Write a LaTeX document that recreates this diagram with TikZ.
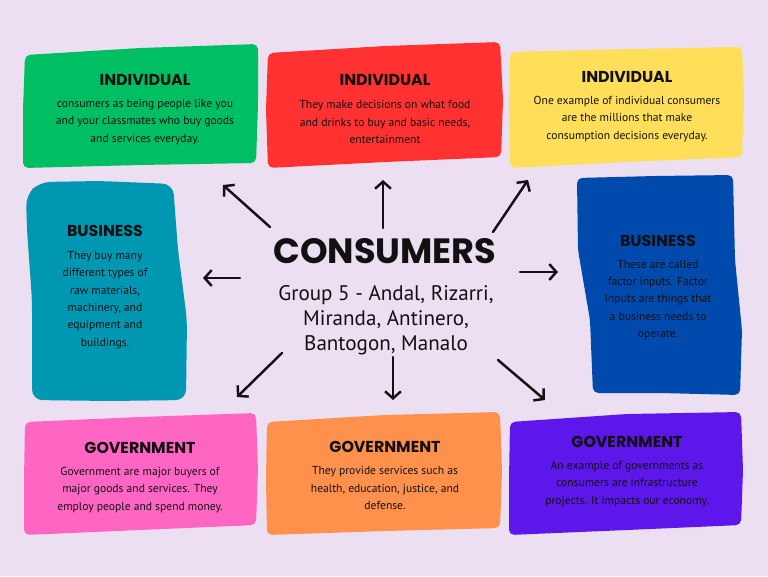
\documentclass[tikz,border=0pt]{standalone}
\usepackage{fontspec}
\setmainfont{PT Sans}
\newfontfamily\headfont{Poppins}
\usepackage{tikz}
\usetikzlibrary{arrows.meta,positioning}
\definecolor{bglilac}{HTML}{EBDFF1}
\definecolor{ink}{HTML}{111111}
\definecolor{cgreen}{HTML}{00BF63}
\definecolor{cred}{HTML}{FF3131}
\definecolor{cyellow}{HTML}{FFDE59}
\definecolor{cteal}{HTML}{0097B2}
\definecolor{cblue}{HTML}{004AAD}
\definecolor{cpink}{HTML}{FF66C4}
\definecolor{corange}{HTML}{FF914D}
\definecolor{cpurple}{HTML}{5E17EB}

\begin{document}
\begin{tikzpicture}[x=0.02cm,y=-0.02cm,
			blob/.style={rounded corners=3pt},
			head/.style={font=\headfont\bfseries\fontsize{9}{11}\selectfont,text=ink},
			body/.style={font=\fontsize{6.6}{9.9}\selectfont,text=ink,align=center},
			arr/.style={draw=ink,line width=1.4pt,line cap=round,-{Straight Barb[length=4pt,width=9pt]}}
			]
			\fill[bglilac] (0,0) rectangle (768,576);
			\useasboundingbox (0,0) rectangle (768,576);
			% coloured patches
			\fill[cgreen,blob] (25,55) -- (140,48) -- (258,44) -- (258,105) -- (256,163) -- (140,165) -- (23,168) -- (23,110) -- cycle;
			\fill[cred,blob] (268,53) -- (385,46) -- (500,42) -- (503,100) -- (501,157) -- (385,162) -- (268,168) -- (266,110) -- cycle;
			\fill[cyellow,blob] (510,52) -- (627,49) -- (742,47) -- (744,100) -- (742,157) -- (627,162) -- (510,168) -- (509,110) -- cycle;
			\fill[cteal,rounded corners=6pt] (26,195) -- (40,182) -- (100,181) -- (173,184) -- (178,250) -- (187,320) -- (186,400) -- (110,401) -- (32,400) -- (32,300) -- (27,230) -- cycle;
			\fill[cblue,blob] (577,178) -- (655,176) -- (733,175) -- (735,260) -- (742,330) -- (740,395) -- (660,393) -- (593,393) -- (590,320) -- (578,250) -- cycle;
			\fill[cpink,blob] (25,422) -- (140,417) -- (256,413) -- (258,470) -- (256,525) -- (140,530) -- (24,535) -- (24,480) -- cycle;
			\fill[corange,blob] (267,422) -- (385,415) -- (500,412) -- (502,470) -- (500,528) -- (385,531) -- (267,535) -- (266,480) -- cycle;
			\fill[cpurple,blob] (510,422) -- (627,414) -- (741,412) -- (743,470) -- (741,525) -- (627,530) -- (509,535) -- (509,480) -- cycle;

			% texts
			\node[head] (indLh) at (145,80) {INDIVIDUAL};
			\node[body] (indLt) at (145,122) {consumers as being people like you\\and your classmates who buy goods\\and services everyday.};
			\node[head] (indMh) at (385,80) {INDIVIDUAL};
			\node[body] (indMt) at (385,122) {They make decisions on what food\\and drinks to buy and basic needs,\\entertainment};
			\node[head] (indRh) at (627,77) {INDIVIDUAL};
			\node[body] (indRt) at (627,119) {One example of individual consumers\\are the millions that make\\consumption decisions everyday.};
			\node[head] (busLh) at (105,231) {BUSINESS};
			\node[body] (busLt) at (105,300) {They buy many\\different types of\\raw materials,\\machinery, and\\equipment and\\buildings.};
			\node[head] (busRh) at (658,241) {BUSINESS};
			\node[body] (busRt) at (658,300) {These are called\\factor inputs. Factor\\Inputs are things that\\a business needs to\\operate.};
			\node[head] (govLh) at (140,448) {GOVERNMENT};
			\node[body] (govLt) at (140,490) {Government are major buyers of\\major goods and services. They\\employ people and spend money.};
			\node[head] (govMh) at (385,447) {GOVERNMENT};
			\node[body] (govMt) at (385,488) {They provide services such as\\health, education, justice, and\\defense.};
			\node[head] (govRh) at (627,442) {GOVERNMENT};
			\node[body] (govRt) at (627,484) {An example of governments as\\consumers are infrastructure\\projects. It impacts our economy.};

			\node[font=\headfont\bfseries\fontsize{20}{24}\selectfont,text=ink] (title) at (385,251) {CONSUMERS};
			\node[font=\fontsize{12}{14.2}\selectfont,text=ink,align=center] (group) at (386,320) {Group 5 - Andal, Rizarri,\\Miranda, Antinero,\\Bantogon, Manalo};

			% arrows
			\coordinate (ulS) at (270,227); \coordinate (ulE) at (223,185);
			\coordinate (upS) at (383,228); \coordinate (upE) at (383,180);
			\coordinate (urS) at (493,232); \coordinate (urE) at (528,180);
			\coordinate (lfS) at (240,278); \coordinate (lfE) at (203,278);
			\coordinate (rtS) at (520,272); \coordinate (rtE) at (558,272);
			\coordinate (dlS) at (282,353); \coordinate (dlE) at (237,397);
			\coordinate (dnS) at (393,357); \coordinate (dnE) at (393,400);
			\coordinate (drS) at (498,360); \coordinate (drE) at (545,400);
			\foreach \s/\e in {ulS/ulE,upS/upE,urS/urE,lfS/lfE,rtS/rtE,dlS/dlE,dnS/dnE,drS/drE}
			\draw[arr] (\s) -- (\e);
		\end{tikzpicture}
\end{document}
